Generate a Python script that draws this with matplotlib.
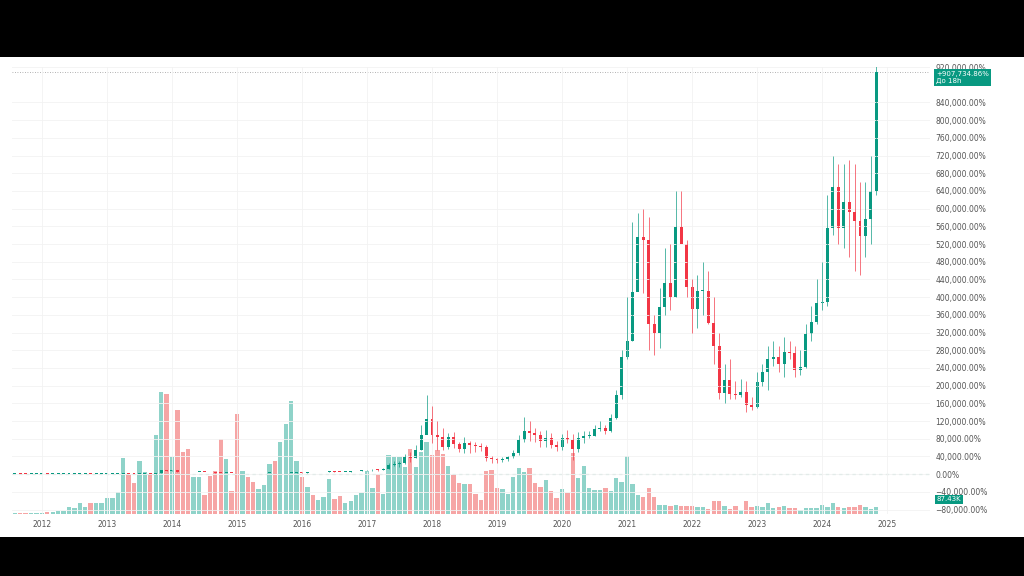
import numpy as np
import matplotlib.pyplot as plt
from matplotlib.ticker import FixedLocator, FuncFormatter

# monthly closes in thousands of percent, Aug 2011 .. Dec 2016
close_early = [0.07, 0.05, 0.03, 0.03, 0.04,
               0.05, 0.045, 0.045, 0.046, 0.047, 0.06, 0.085, 0.093, 0.113, 0.102, 0.115, 0.123,
               0.18, 0.30, 0.85, 1.26, 1.17, 0.88, 0.96, 1.28, 1.21, 1.85, 10.3, 7.3,
               8.5, 5.2, 4.2, 4.0, 5.7, 5.8, 5.4, 4.4, 3.5, 3.1, 3.5, 2.9,
               2.0, 2.3, 2.2, 2.1, 2.1, 2.4, 2.6, 2.1, 2.2, 2.9, 3.4, 3.9,
               3.4, 4.0, 3.8, 4.1, 4.8, 6.1, 5.7, 5.2, 5.5, 6.4, 6.8, 8.7]

# Jan 2017 .. Nov 2024
close_late = [8.8, 10.5, 9.8, 12.5, 20, 22, 25, 38, 36, 54, 88, 124,
              88, 85, 61, 84, 68, 56, 70, 65, 64, 62, 36, 34,
              33, 34, 38, 47, 77, 97, 93, 88, 75, 81, 66, 61,
              81, 77, 56, 81, 86, 86, 101, 104, 97, 127, 179, 264,
              300, 411, 536, 529, 339, 319, 377, 432, 400, 558, 520, 424,
              373, 414, 415, 341, 289, 183, 212, 181, 179, 185, 156, 151,
              208, 230, 260, 264, 249, 276, 273, 235, 242, 316, 344, 386,
              388, 556, 649, 556, 615, 592, 572, 538, 576, 640, 907.73]
high_late = [10, 11, 12, 13, 25, 30, 29, 46, 50, 65, 110, 178,
             155, 120, 105, 92, 95, 72, 83, 75, 72, 70, 66, 42,
             36, 38, 40, 55, 88, 130, 120, 105, 98, 100, 92, 76,
             90, 100, 91, 95, 98, 98, 112, 120, 112, 135, 190, 280,
             400, 570, 590, 600, 580, 360, 420, 510, 520, 640, 640, 530,
             440, 450, 480, 460, 400, 320, 250, 260, 210, 215, 210, 175,
             230, 250, 290, 300, 290, 310, 300, 290, 280, 340, 380, 440,
             480, 630, 720, 700, 700, 710, 700, 660, 660, 720, 930]
low_late = [7, 8, 7, 9, 12, 18, 16, 24, 28, 36, 55, 90,
            70, 55, 55, 56, 60, 50, 48, 48, 50, 52, 30, 25,
            26, 28, 30, 36, 44, 72, 75, 72, 62, 62, 58, 53,
            54, 70, 32, 50, 70, 82, 86, 98, 90, 95, 125, 170,
            260, 300, 420, 410, 280, 270, 285, 360, 370, 400, 530, 400,
            320, 330, 360, 340, 250, 170, 160, 170, 170, 175, 140, 145,
            150, 200, 190, 245, 230, 220, 260, 220, 225, 240, 300, 340,
            370, 380, 540, 520, 510, 490, 460, 450, 490, 520, 630]

# volume, Aug 2011 .. Nov 2024 (arbitrary units)
volume = [2, 2, 2, 2, 2,
          4, 5, 6, 8, 8, 22, 18, 33, 20, 33, 33, 33,
          47, 47, 65, 167, 118, 92, 160, 125, 120, 237, 365, 360,
          170, 312, 185, 195, 112, 110, 58, 113, 130, 225, 165, 70,
          300, 130, 110, 95, 75, 88, 150, 158, 215, 270, 337, 160,
          110, 80, 57, 42, 50, 105, 45, 55, 33, 38, 57, 63,
          130, 78, 120, 60, 175, 170, 170, 140, 195, 140, 185, 215,
          175, 190, 180, 145, 117, 92, 90, 90, 60, 43, 130, 132,
          77, 75, 60, 110, 138, 125, 138, 93, 80, 102, 70, 48,
          75, 62, 182, 108, 145, 78, 72, 72, 78, 68, 107, 95,
          172, 90, 57, 50, 78, 52, 28, 28, 25, 28, 25, 25,
          25, 20, 20, 15, 38, 40, 25, 15, 25, 12, 40, 22,
          23, 20, 32, 18, 20, 25, 17, 17, 12, 17, 17, 17,
          27, 20, 32, 22, 17, 20, 20, 28, 20, 15, 20]

year_ticks = list(range(2012, 2026))
# 880,000 sits behind the last-price tag, so it is left out
price_ticks = [v for v in range(-80, 921, 40) if v != 880]

GREEN = "#089981"
RED = "#f23645"
VGREEN = "#8fd3c9"
VRED = "#f6a5a5"

closes = np.array(close_early + close_late) * 1000
n = len(closes)
opens = np.concatenate([[closes[0]], closes[:-1]])
n_early = len(close_early)
highs = np.concatenate([np.maximum(opens, closes)[:n_early], np.array(high_late) * 1000])
lows = np.concatenate([np.minimum(opens, closes)[:n_early], np.array(low_late) * 1000])
x = 2011 + 7 / 12 + np.arange(n) / 12
up = closes >= opens

fig = plt.figure(figsize=(10.24, 5.76), dpi=100, facecolor="black")
bg = fig.add_axes([0, 39 / 576, 1, 480 / 576])
bg.set_facecolor("white")
bg.set_xticks([]); bg.set_yticks([])
for s in bg.spines.values():
    s.set_visible(False)

ax = fig.add_axes([12 / 1024, 1 - 514 / 576, 918 / 1024, 447 / 576])
vax = ax.twinx()
vax.set_zorder(0)
ax.set_zorder(1)
ax.patch.set_visible(False)

w = 0.8 / 12
vax.bar(x, volume, width=w, color=[VGREEN if u else VRED for u in up], linewidth=0)
vax.set_ylim(0, 1337)
vax.axis("off")

colors = [GREEN if u else RED for u in up]
ax.vlines(x, lows, highs, colors=colors, linewidth=0.6, alpha=0.8)
body_h = np.abs(closes - opens)
body_h = np.where(body_h < 1500, 1500, body_h)
ax.bar(x, body_h, bottom=np.minimum(opens, closes), width=0.55 / 12, color=colors, linewidth=0)

ax.axhline(0, color="#9bc9c0", linestyle=(0, (3, 3)), linewidth=0.8, zorder=0)
ax.axhline(closes[-1], color="#999999", linestyle=(0, (1, 2)), linewidth=0.6, zorder=0)

ax.set_xlim(2011.54, 2025.66)
ax.set_ylim(-90000, 920000)
ax.yaxis.tick_right()
ax.yaxis.set_major_locator(FixedLocator([v * 1000 for v in price_ticks]))
ax.yaxis.set_major_formatter(FuncFormatter(lambda v, p: f"{v:,.2f}%".replace("-", "\u2212")))
ax.set_xticks(year_ticks)
ax.tick_params(axis="both", length=0, labelsize=5.5, colors="#555555", pad=4)
ax.grid(color="#f2f2f2", linewidth=0.6)
for s in ax.spines.values():
    s.set_visible(False)

ax.text(1.007, closes[-1] + 4000, "+907,734.86%\n\u0414\u043e 18h", transform=ax.get_yaxis_transform(),
        fontsize=5, color="white", va="top", ha="left", linespacing=1.3,
        bbox=dict(boxstyle="square,pad=0.3", fc=GREEN, ec="none"))
ax.text(1.007, -57000, "87.43K", transform=ax.get_yaxis_transform(),
        fontsize=5, color="white", va="center", ha="left",
        bbox=dict(boxstyle="square,pad=0.25", fc=GREEN, ec="none"))

fig.savefig("out.png", dpi=100, facecolor="black")
